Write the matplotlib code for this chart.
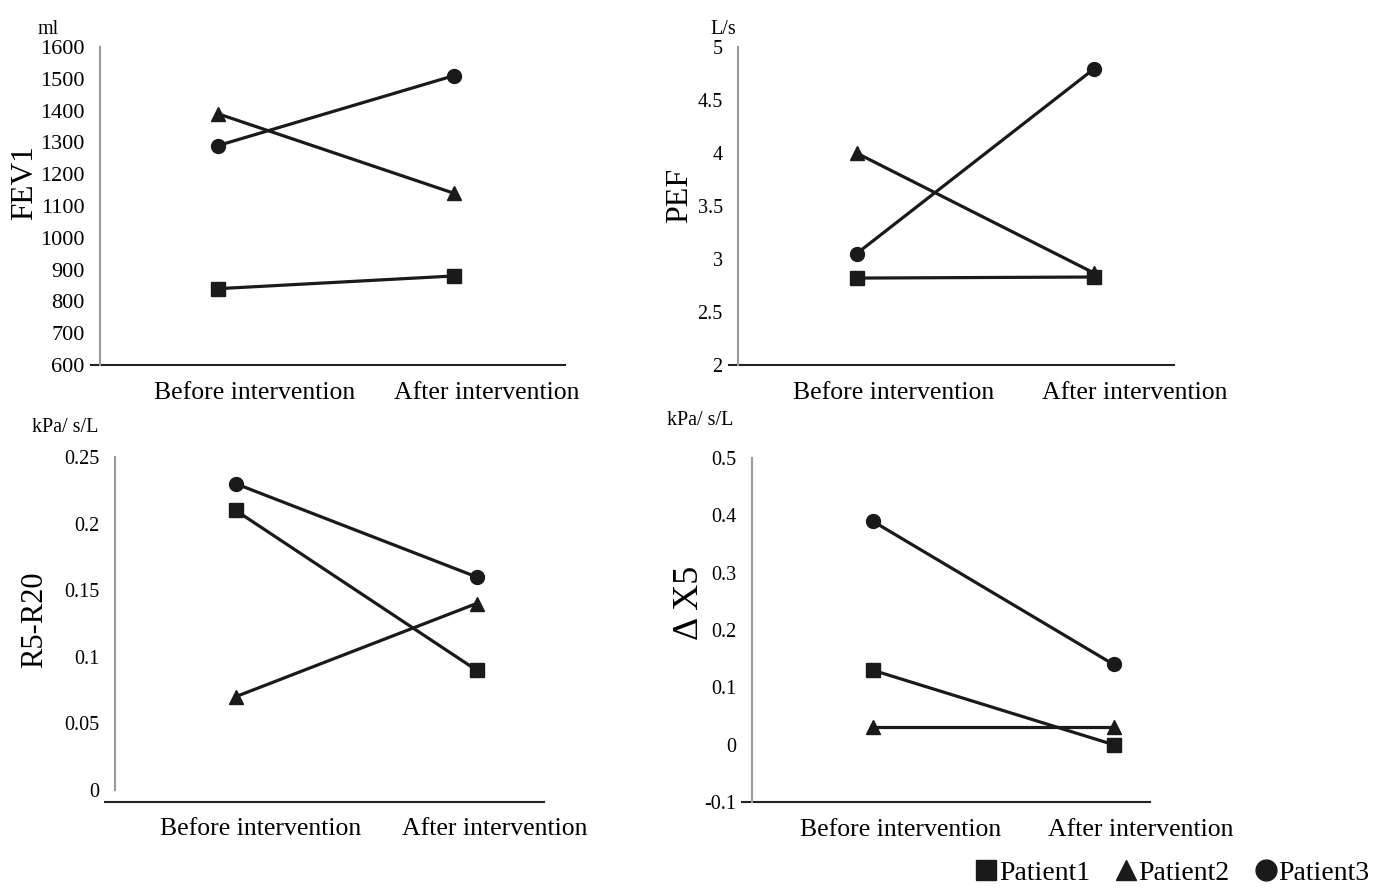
import matplotlib
matplotlib.use("Agg")
import matplotlib.pyplot as plt
from matplotlib.lines import Line2D

plt.rcParams['font.family'] = ['Liberation Serif', 'DejaVu Serif']

W, H = 1375, 888

phases = ["Before intervention", "After intervention"]
patients = ["Patient1", "Patient2", "Patient3"]
markers = ["s", "^", "o"]

fev1 = [[840, 880], [1390, 1140], [1290, 1510]]
pef = [[2.82, 2.83], [4.0, 2.87], [3.05, 4.79]]
r5r20 = [[0.21, 0.09], [0.07, 0.14], [0.23, 0.16]]
dx5 = [[0.13, 0.0], [0.03, 0.03], [0.39, 0.14]]


def box(left, right, top, bottom):
    return [left / W, 1 - bottom / H, (right - left) / W, (bottom - top) / H]


fig = plt.figure(figsize=(W / 100, H / 100), dpi=100)

# left, right, top, bottom of plot area in pixels
panels = [
    dict(rect=box(100, 572, 47, 365), data=fev1, ylim=(600, 1600), step=100,
         unit="ml", unit_xy=(48, 30), label="FEV1", label_xy=(25, 183),
         lsize=22.5, tsize=16, base=0, xmax=1.47, xt=[0.155, 1.137], xpad=12),
    dict(rect=box(738, 1212, 47, 365), data=pef, ylim=(2, 5), step=0.5,
         unit="L/s", unit_xy=(723, 30), label="PEF", label_xy=(680, 195),
         lsize=23, tsize=14.5, base=0, xmax=1.34, xt=[0.155, 1.175], xpad=12),
    dict(rect=box(115, 597, 457, 790), data=r5r20, ylim=(0, 0.25), step=0.05,
         unit="kPa/ s/L", unit_xy=(65, 428), label="R5-R20", label_xy=(35, 620),
         lsize=22, tsize=14.5, base=12, xmax=1.28, xt=[0.105, 1.075], xpad=20.5),
    dict(rect=box(752, 1234, 458, 802), data=dx5, ylim=(-0.1, 0.5), step=0.1,
         unit="kPa/ s/L", unit_xy=(700, 420), label="Δ X5", label_xy=(690, 603),
         lsize=26, tsize=14.5, base=0, xmax=1.15, xt=[0.118, 1.113], xpad=12),
]

for p in panels:
    ax = fig.add_axes(p["rect"])
    for vals, m in zip(p["data"], markers):
        ax.plot([0, 1], vals, color="#1a1a1a", lw=2.3, marker=m, ms=10, clip_on=False)
    ax.set_xlim(-0.5, 1.5)
    lo, hi = p["ylim"]
    ax.set_ylim(lo, hi)
    n = int(round((hi - lo) / p["step"]))
    ticks = [lo + i * p["step"] for i in range(n + 1)]
    ax.set_yticks(ticks, ["{:g}".format(round(t, 3)) for t in ticks])
    ax.set_xticks(p["xt"], phases)
    ax.tick_params(axis="y", length=0, pad=11, labelsize=p["tsize"])
    ax.tick_params(axis="x", length=0, pad=p["xpad"], labelsize=18.5)
    for s in ["top", "right", "bottom"]:
        ax.spines[s].set_visible(False)
    ax.spines["left"].set_color("#9a9a9a")
    ax.spines["left"].set_linewidth(1.5)
    # category axis line
    off = p["base"] / (p["rect"][3] * H)
    ax.add_line(Line2D([-0.02, (p["xmax"] + 0.5) / 2.0], [-off, -off], transform=ax.transAxes,
                       color="#222222", lw=1.5, clip_on=False))
    fig.text(p["unit_xy"][0] / W, 1 - p["unit_xy"][1] / H, p["unit"], fontsize=14.5,
             ha="center", va="center")
    fig.text(p["label_xy"][0] / W, 1 - p["label_xy"][1] / H, p["label"], fontsize=p["lsize"],
             rotation=90, ha="center", va="center")

handles = [Line2D([], [], color="#1a1a1a", marker=m, ls="none", ms=15) for m in markers]
fig.legend(handles, patients, loc="lower right", bbox_to_anchor=(1.0, -0.004), ncol=3,
           frameon=False, fontsize=20, handlelength=0.8, handletextpad=0.05,
           columnspacing=0.9, borderpad=0.1, borderaxespad=0.1)

fig.savefig("out.png", dpi=100)
